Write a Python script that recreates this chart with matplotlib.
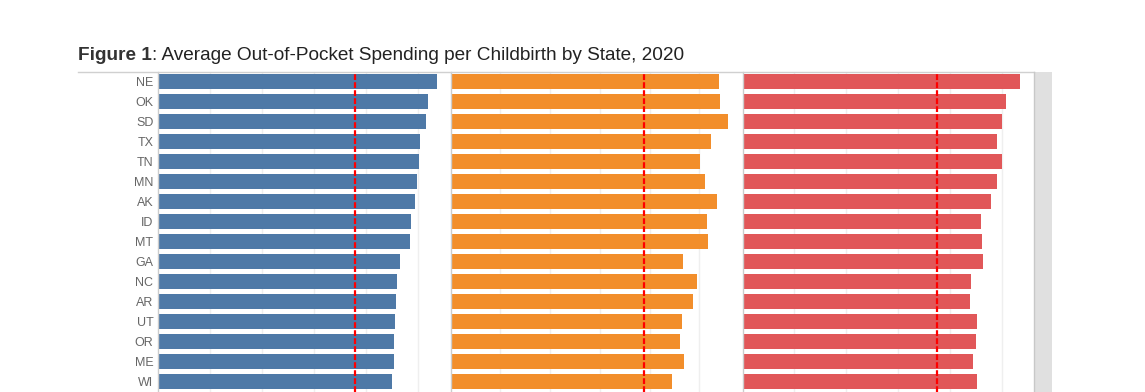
import matplotlib
matplotlib.use("Agg")
import matplotlib.pyplot as plt
from matplotlib.lines import Line2D
from matplotlib.patches import Rectangle

plt.rcParams['font.family'] = ['Liberation Sans', 'DejaVu Sans']

# visible rows of the chart (top to bottom)
states = ["NE", "OK", "SD", "TX", "TN", "MN", "AK", "ID", "MT",
          "GA", "NC", "AR", "UT", "OR", "ME", "WI"]

# average out-of-pocket spending, three panels (USD)
panel1 = [2678, 2591, 2572, 2514, 2507, 2488, 2468, 2430, 2420,
          2324, 2295, 2285, 2275, 2266, 2266, 2246]
panel2 = [2696, 2706, 2786, 2616, 2505, 2555, 2676, 2575, 2585,
          2334, 2475, 2435, 2324, 2304, 2344, 2224]
panel3 = [2668, 2534, 2495, 2447, 2495, 2447, 2389, 2293, 2303,
          2312, 2197, 2188, 2255, 2245, 2216, 2255]
averages = [1894, 1943, 1867]

colors = ["#4e79a7", "#f28e2b", "#e15759"]
xmax = [2811, 2932, 2806]

W, H = 1145, 392
fig = plt.figure(figsize=(W / 100, H / 100), dpi=100)

# panel edges in pixels
edges = [158.3, 450.5, 742.5, 1034.3]
top_px = 72

for i, vals in enumerate([panel1, panel2, panel3]):
    left = edges[i] / W
    width = (edges[i + 1] - edges[i]) / W
    ax = fig.add_axes([left, 0, width, (H - top_px) / H])
    y = list(range(len(states)))
    ax.barh(y, vals, height=0.75, color=colors[i], zorder=2)
    ax.axvline(averages[i], color="#ff0000", linestyle=(0, (2.6, 1.0)),
               linewidth=1.6, zorder=3)
    ax.set_xlim(0, xmax[i])
    ax.set_ylim(15.55, -0.5)
    ax.set_xticks([500, 1000, 1500, 2000, 2500])
    ax.grid(axis="x", color="#efefef", linewidth=1, zorder=0)
    ax.tick_params(axis="x", length=0, labelbottom=False)
    for s in ["top", "right", "bottom"]:
        ax.spines[s].set_visible(False)
    ax.spines["left"].set_color("#cccccc")
    ax.spines["left"].set_linewidth(1)
    if i == 0:
        ax.set_yticks(y)
        ax.set_yticklabels(states, fontsize=9, color="#666666")
        ax.tick_params(axis="y", length=0, pad=3.6)
    else:
        ax.set_yticks([])

# top rule and right scrollbar area
fig.add_artist(Line2D([78 / W, 1034.3 / W], [(H - top_px) / H] * 2,
                      color="#d0d0d0", linewidth=1))
fig.add_artist(Rectangle((1034.3 / W, 0), 18 / W, (H - top_px) / H,
                         facecolor="#e0e0e0", edgecolor="none"))
fig.add_artist(Line2D([1034.3 / W] * 2, [0, (H - top_px) / H],
                      color="#c8c8c8", linewidth=1))

# title
t1 = fig.text(78 / W, (H - 59.5) / H, "Figure 1", fontsize=13.7,
              fontweight="bold", color="#333333", va="baseline")
fig.canvas.draw()
bb = t1.get_window_extent()
fig.text(bb.x1 / W, (H - 59.5) / H,
         ": Average Out-of-Pocket Spending per Childbirth by State, 2020",
         fontsize=13.7, color="#222222", va="baseline")

fig.savefig("out.png", dpi=100)
